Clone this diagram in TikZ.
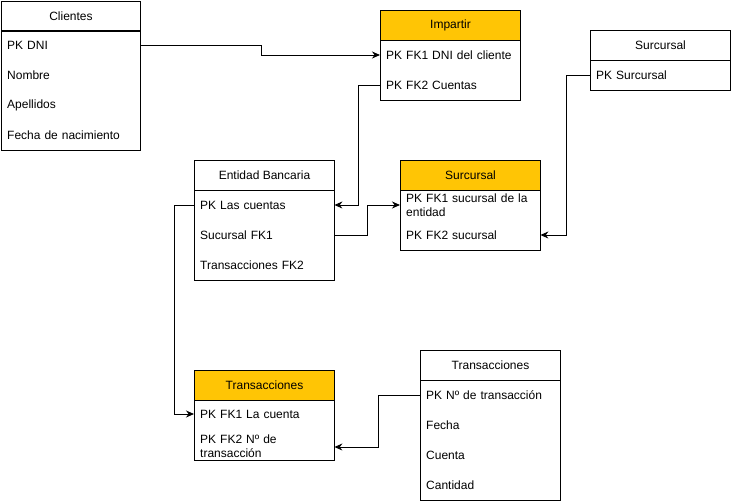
\documentclass[tikz,border=0pt]{standalone}
\usepackage{fontspec}
\setmainfont{Liberation Sans}
\usetikzlibrary{arrows.meta}
\definecolor{hdrorange}{HTML}{FFC505}
\tikzset{
  hdr/.style={draw, line width=1pt, minimum width=140pt, minimum height=30pt, inner sep=0pt, anchor=north west},
  hdrO/.style={hdr, fill=hdrorange},
  bodybox/.style={draw, line width=1pt, minimum width=140pt, inner sep=0pt, anchor=north west},
  row/.style={anchor=west, inner xsep=6pt, inner ysep=0pt, text width=128pt, align=left, minimum height=30pt},
  arr/.style={line width=1pt, -{Stealth[length=8pt,width=7pt]}},
}
\begin{document}
\begin{tikzpicture}[x=1pt,y=-1pt, font=\fontsize{12}{14}\selectfont]
\useasboundingbox (0,0) rectangle (731,501);
% Clientes
\node[hdr, minimum width=139pt] (clh) at (1,1) {Clientes};
\node[bodybox, minimum width=139pt, minimum height=120pt] (clb) at (1,30) {};
\node[row] (cl1) at (1,45) {PK DNI};
\node[row] (cl2) at (1,75) {Nombre};
\node[row] (cl3) at (1,105) {Apellidos};
\node[row] (cl4) at (1,135) {Fecha de nacimiento};
% Impartir
\node[hdrO] (imh) at (380,10) {Impartir};
\node[bodybox, minimum height=60pt] (imb) at (380,40) {};
\node[row] (im1) at (380,55) {PK FK1 DNI del cliente};
\node[row] (im2) at (380,85) {PK FK2 Cuentas};
% Surcursal (right)
\node[hdr] (suh) at (590,30) {Surcursal};
\node[bodybox, minimum height=30pt] (sub) at (590,60) {};
\node[row] (su1) at (590,75) {PK Surcursal};
% Entidad Bancaria
\node[hdr] (ebh) at (194,160) {Entidad Bancaria};
\node[bodybox, minimum height=90pt] (ebb) at (194,190) {};
\node[row] (eb1) at (194,205) {PK Las cuentas};
\node[row] (eb2) at (194,235) {Sucursal FK1};
\node[row] (eb3) at (194,265) {Transacciones FK2};
% Surcursal (orange)
\node[hdrO] (s2h) at (400,160) {Surcursal};
\node[bodybox, minimum height=60pt] (s2b) at (400,190) {};
\node[row] (s2a) at (400,205.5) {PK FK1 sucursal de la\\entidad};
\node[row] (s2c) at (400,235) {PK FK2 sucursal};
% Transacciones (orange)
\node[hdrO] (trh) at (194,370) {Transacciones};
\node[bodybox, minimum height=60pt] (trb) at (194,400) {};
\node[row] (tr1) at (194,414) {PK FK1 La cuenta};
\node[row] (tr2) at (194,446) {PK FK2 Nº de\\transacción};
% Transacciones (right)
\node[hdr] (txh) at (420,350) {Transacciones};
\node[bodybox, minimum height=120pt] (txb) at (420,380) {};
\node[row] (tx1) at (420,395) {PK Nº de transacción};
\node[row] (tx2) at (420,425) {Fecha};
\node[row] (tx3) at (420,455) {Cuenta};
\node[row] (tx4) at (420,485) {Cantidad};
% connectors
\draw[arr] (cl1.east) -- ++(120,0) |- (im1.west);
\draw[arr] (im2.west) -- ++(-22,0) |- (eb1.east);
\draw[arr] (su1.west) -- ++(-24,0) |- (s2c.east);
\draw[arr] (eb2.east) -- ++(33,0) |- ([yshift=0.5pt]s2a.west);
\draw[arr] (eb1.west) -- ++(-20,0) |- (tr1.west);
\draw[arr] (tx1.west) -- ++(-42,0) |- ([yshift=-1pt]tr2.east);
\end{tikzpicture}
\end{document}
